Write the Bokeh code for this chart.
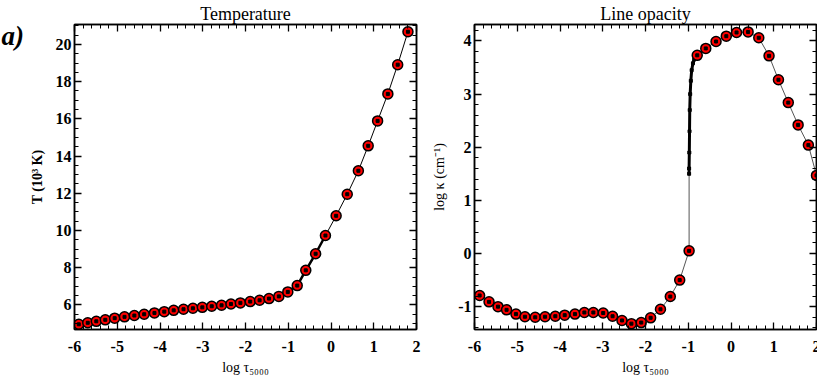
from bokeh.plotting import figure
from bokeh.models import (Range1d, SingleIntervalTicker, LinearAxis, Label,
                          CustomJSTickFormatter)
from bokeh.layouts import row
from bokeh.embed import file_html
from bokeh.resources import INLINE

# ---------------- data ----------------
temp_tau = [-5.90, -5.69, -5.49, -5.28, -5.06, -4.83, -4.60, -4.37, -4.13, -3.90,
            -3.68, -3.45, -3.23, -3.01, -2.79, -2.56, -2.34, -2.12, -1.89, -1.67,
            -1.45, -1.22, -1.01, -0.79, -0.59, -0.36, -0.13, 0.12, 0.38, 0.64,
            0.87, 1.09, 1.33, 1.56, 1.80]
temp_T = [4.96, 5.04, 5.12, 5.20, 5.29, 5.36, 5.43, 5.50, 5.57, 5.64,
          5.71, 5.77, 5.82, 5.87, 5.93, 5.98, 6.05, 6.11, 6.18, 6.25,
          6.34, 6.46, 6.70, 7.04, 7.86, 8.75, 9.73, 10.79, 11.95, 13.21,
          14.55, 15.89, 17.34, 18.91, 20.68]

opac_tau = [-5.88, -5.66, -5.45, -5.25, -5.03, -4.82, -4.58, -4.35, -4.11, -3.89,
            -3.65, -3.43, -3.22, -2.99, -2.77, -2.55, -2.33, -2.10, -1.88, -1.65,
            -1.42, -1.20, -0.98, -0.79, -0.59, -0.35, -0.11, 0.13, 0.40, 0.65,
            0.89, 1.11, 1.34, 1.57, 1.81, 2.00]
opac_k = [-0.79, -0.91, -1.00, -1.06, -1.14, -1.19, -1.20, -1.19, -1.18, -1.16,
          -1.14, -1.11, -1.11, -1.12, -1.18, -1.26, -1.32, -1.30, -1.21, -1.05,
          -0.81, -0.50, 0.05, 3.73, 3.86, 3.99, 4.09, 4.16, 4.17, 4.06,
          3.72, 3.27, 2.84, 2.42, 2.04, 1.47]
# dense points of the jump near log tau = -1
jump_tau = [-0.98, -0.98, -0.975, -0.97, -0.965, -0.955, -0.94, -0.92, -0.89, -0.86, -0.83]
jump_k = [1.50, 1.60, 1.90, 2.30, 2.70, 3.00, 3.25, 3.45, 3.58, 3.65, 3.70]

titles = ["Temperature", "Line opacity"]
x_label = "log τ₅₀₀₀"
y_labels = ["T (10³ K)", "log κ (cm⁻¹)"]
panel_tag = "a)"

SERIF = "Liberation Serif"
FRAME_W, FRAME_H = 342, 305
TOP, BOTTOM = 22, 50


def style(p, xint, xminor, yint, yminor):
    p.xgrid.visible = False
    p.ygrid.visible = False
    p.outline_line_color = "black"
    p.outline_line_width = 1.5
    xa = LinearAxis(ticker=SingleIntervalTicker(interval=xint, num_minor_ticks=xminor))
    ya = LinearAxis(ticker=SingleIntervalTicker(interval=yint, num_minor_ticks=yminor))
    xt = LinearAxis(ticker=SingleIntervalTicker(interval=xint, num_minor_ticks=xminor))
    yr = LinearAxis(ticker=SingleIntervalTicker(interval=yint, num_minor_ticks=yminor))
    for ax in (xa, ya, xt, yr):
        ax.axis_line_color = "black"
        ax.axis_line_width = 1.5
        ax.major_tick_line_color = "black"
        ax.minor_tick_line_color = "black"
        ax.major_tick_line_width = 1.3
        ax.minor_tick_line_width = 1.0
        ax.major_tick_in = 7
        ax.major_tick_out = 0
        ax.minor_tick_in = 4
        ax.minor_tick_out = 0
        ax.major_label_text_font = SERIF
        ax.major_label_text_font_style = "bold"
        ax.major_label_text_font_size = "16px"
        ax.major_label_text_color = "black"
        ax.axis_label_text_font = SERIF
        ax.axis_label_text_color = "black"
        ax.axis_label_text_font_size = "14px"
        ax.formatter = CustomJSTickFormatter(code="return tick.toFixed(0)")
    for ax in (xt, yr):
        ax.formatter = CustomJSTickFormatter(code="return ''")
        ax.major_label_standoff = 0
        ax.axis_label = None
    xa.major_label_standoff = 11
    xa.axis_label_standoff = 5
    ya.major_label_standoff = 3
    ya.axis_label_standoff = 8
    p.add_layout(xa, "below")
    p.add_layout(ya, "left")
    p.add_layout(xt, "above")
    p.add_layout(yr, "right")
    return xa, ya


def make_fig(title, yr, left_border, right_border):
    p = figure(frame_width=FRAME_W, frame_height=FRAME_H,
               x_range=Range1d(-6, 2), y_range=yr,
               x_axis_type=None, y_axis_type=None,
               output_backend="svg", toolbar_location=None,
               min_border_left=left_border, min_border_right=right_border,
               min_border_top=TOP, min_border_bottom=BOTTOM,
               background_fill_color="white", border_fill_color="white")
    p.title.text = title
    p.title.align = "center"
    p.title.text_font = SERIF
    p.title.text_font_style = "normal"
    p.title.text_font_size = "18px"
    p.title.text_color = "black"
    p.title.standoff = 2
    p.title.offset = 0
    return p


# ---------------- panel tag (own small svg canvas, 1 data unit = 1 px of its frame) ----------------
p0 = figure(frame_width=26, frame_height=FRAME_H, title=None,
            x_range=Range1d(0, 26), y_range=Range1d(0, FRAME_H),
            x_axis_type=None, y_axis_type=None, output_backend="svg", toolbar_location=None,
            min_border_left=0, min_border_right=0, min_border_top=TOP, min_border_bottom=BOTTOM,
            outline_line_color=None,
            background_fill_color="white", border_fill_color="white")
p0.xgrid.visible = False
p0.ygrid.visible = False
p0.add_layout(Label(x=1, y=FRAME_H - 11, text=panel_tag, text_font=SERIF,
                    text_font_style="bold italic", text_font_size="27px",
                    text_color="black", text_baseline="alphabetic"))

# ---------------- Temperature ----------------
p1 = make_fig(titles[0], Range1d(4.68, 21.07), 45, 6)
xa1, ya1 = style(p1, 1, 5, 2, 4)
xa1.axis_label = x_label
xa1.axis_label_text_font_style = "normal"
ya1.axis_label = y_labels[0]
ya1.axis_label_text_font_style = "bold"

p1.line(temp_tau, temp_T, line_color="black", line_width=1)
thick = [i for i, t in enumerate(temp_tau) if -1.25 <= t <= -0.1]
p1.line([temp_tau[i] for i in thick], [temp_T[i] for i in thick],
        line_color="black", line_width=2.5)
p1.scatter(temp_tau, temp_T, size=10, fill_color="red", line_color="black", line_width=1.5)
p1.scatter(temp_tau, temp_T, marker="square", size=3, fill_color="black", line_color="black")

# ---------------- Line opacity ----------------
p2 = make_fig(titles[1], Range1d(-1.43, 4.31), 52, 4)
xa2, ya2 = style(p2, 1, 5, 1, 5)
xa2.axis_label = x_label
xa2.axis_label_text_font_style = "normal"
ya2.axis_label = y_labels[1]
ya2.axis_label_text_font_style = "normal"

split = opac_tau.index(-0.98) + 1
line_x = opac_tau[:split] + jump_tau + opac_tau[split:]
line_y = opac_k[:split] + jump_k + opac_k[split:]
p2.line(line_x, line_y, line_color="#555555", line_width=1)
p2.line(jump_tau, jump_k, line_color="black", line_width=3)
p2.scatter(jump_tau, jump_k, marker="square", size=3, fill_color="black", line_color="black")
p2.scatter(opac_tau, opac_k, size=10, fill_color="red", line_color="black", line_width=1.5)
p2.scatter(opac_tau, opac_k, marker="square", size=3, fill_color="black", line_color="black")

layout = row(p0, p1, p2)
open("out.html", "w").write(file_html(layout, INLINE))
